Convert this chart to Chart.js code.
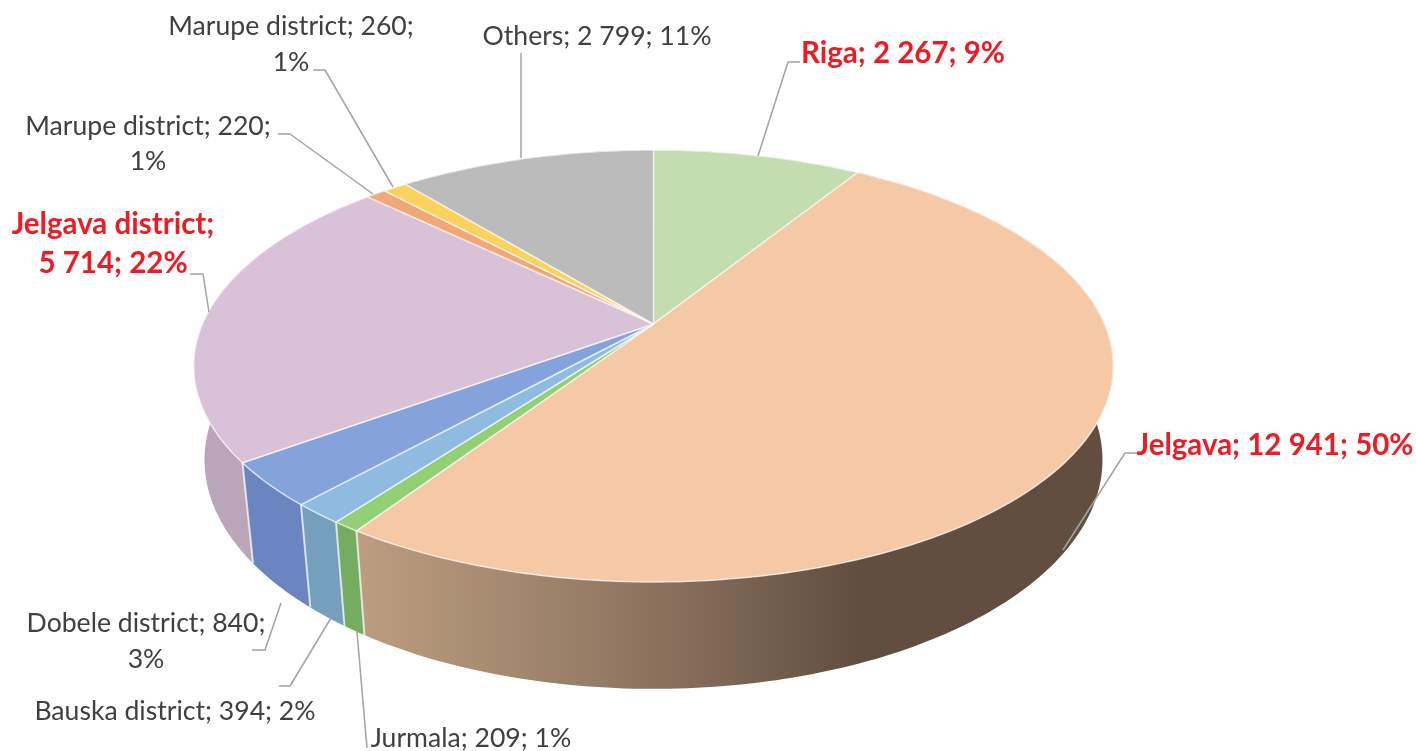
<!DOCTYPE html>
<html>
<head>
<meta charset="utf-8">
<style>
  html, body { margin: 0; padding: 0; background: #fff; }
  #wrap { width: 1416px; height: 751px; }
</style>
<script src="https://cdn.jsdelivr.net/npm/chart.js@4"></script>
</head>
<body>
<div id="wrap"><canvas id="myChart" width="1416" height="751"></canvas></div>
<script>
// data
var places = ["Riga", "Jelgava", "Jurmala", "Bauska district", "Dobele district",
              "Jelgava district", "Marupe district", "Marupe district", "Others"];
var counts = [2267, 12941, 209, 394, 840, 5714, 220, 260, 2799];
var countLabels = ["2 267", "12 941", "209", "394", "840", "5 714", "220", "260", "2 799"];
var shares = ["9%", "50%", "1%", "2%", "3%", "22%", "1%", "1%", "11%"];

// styles
var topColors = ["#c3dcb0", "#f5c8a6", "#93cf74", "#8fbbe0", "#84a3da", "#d9c2d8", "#f0a878", "#fbd35c", "#bbbbbb"];
var wallColors = ["#97ab88", "#8f7560", "#76ab62", "#74a0bd", "#6a85bf", "#baa6b8", "#ba8360", "#c3a448", "#919191"];

// label layout: centre x, baseline y of each line
var labelLayout = [
  { x: 903, y: [63], bold: true },
  { x: 1275, y: [455], bold: true },
  { x: 471, y: [747] },
  { x: 175, y: [720] },
  { x: 146, y: [632, 668] },
  { x: 113, y: [234, 273], bold: true },
  { x: 148, y: [135, 170] },
  { x: 291, y: [35, 71] },
  { x: 597, y: [45] }
];
var leaders = [
  [[800, 62], [788, 62], [758, 156]],
  [[1137, 453], [1125, 453], [1063, 550]],
  [[357, 632], [367, 748]],
  [[279, 686], [290, 686], [331, 618]],
  [[252, 650], [265, 650], [281, 603]],
  [[190, 274], [203, 274], [209, 312]],
  [[278, 134], [290, 134], [373, 194]],
  [[313, 70], [325, 70], [393, 187]],
  [[521, 53], [521, 158]]
];

// camera for the tilted disc, apex of the pie sits at cx, cy
var cx = 653.5, cy = 324;
var a = 451, b = 207.8, k = 0.1945;
var vanishY = 4076, depth = 0.0232;

function project(theta, d) {
  var w = 1 + k * Math.cos(theta) + d;
  return {
    x: cx + a * Math.sin(theta) / w,
    y: cy + (-b * Math.cos(theta) + d * vanishY) / w
  };
}

function wallFill(ctx, i) {
  if (i != 1) return wallColors[i];
  var g = ctx.createLinearGradient(360, 0, 860, 0);
  g.addColorStop(0, "#bd9d80");
  g.addColorStop(0.5, "#947a64");
  g.addColorStop(1, "#614e40");
  return g;
}

var pie3d = {
  id: "pie3d",
  beforeDatasetsDraw: function(chart) {
    var ctx = chart.ctx;
    var arcs = chart.getDatasetMeta(0).data;
    var t, p;

    // side walls first, the top face covers the hidden part
    arcs.forEach(function(arc, i) {
      var s = arc.startAngle + Math.PI / 2, e = arc.endAngle + Math.PI / 2;
      var steps = Math.max(4, Math.ceil((e - s) * 60));
      ctx.beginPath();
      for (t = 0; t <= steps; t++) {
        p = project(s + (e - s) * t / steps, 0);
        if (t == 0) ctx.moveTo(p.x, p.y); else ctx.lineTo(p.x, p.y);
      }
      for (t = steps; t >= 0; t--) {
        p = project(s + (e - s) * t / steps, depth);
        ctx.lineTo(p.x, p.y);
      }
      ctx.closePath();
      ctx.fillStyle = wallFill(ctx, i);
      ctx.fill();
    });
    // light seams at the slice edges
    arcs.forEach(function(arc, i) {
      var e = arc.endAngle + Math.PI / 2;
      var p1 = project(e, 0), p2 = project(e, depth);
      // only the seams on the near side show
      if (Math.cos(e) > 0) return;
      ctx.beginPath();
      ctx.moveTo(p1.x, p1.y);
      ctx.lineTo(p2.x, p2.y);
      ctx.strokeStyle = "rgba(255,255,255,0.7)";
      ctx.lineWidth = 2;
      ctx.stroke();
    });

    // top face
    arcs.forEach(function(arc, i) {
      var s = arc.startAngle + Math.PI / 2, e = arc.endAngle + Math.PI / 2;
      var steps = Math.max(4, Math.ceil((e - s) * 60));
      ctx.beginPath();
      ctx.moveTo(cx, cy);
      for (t = 0; t <= steps; t++) {
        p = project(s + (e - s) * t / steps, 0);
        ctx.lineTo(p.x, p.y);
      }
      ctx.closePath();
      ctx.fillStyle = topColors[i];
      ctx.fill();
      ctx.strokeStyle = "rgba(255,255,255,0.65)";
      ctx.lineWidth = 1.5;
      ctx.lineJoin = "round";
      ctx.stroke();
    });

    return false; // the flat arcs are replaced by the drawing above
  },
  afterDraw: function(chart) {
    var ctx = chart.ctx;
    ctx.save();
    // leader lines
    ctx.strokeStyle = "#a3a3a3";
    ctx.lineWidth = 1.5;
    leaders.forEach(function(line) {
      ctx.beginPath();
      line.forEach(function(pt, n) {
        if (n == 0) ctx.moveTo(pt[0], pt[1]); else ctx.lineTo(pt[0], pt[1]);
      });
      ctx.stroke();
    });
    // data labels
    ctx.textAlign = "center";
    ctx.textBaseline = "alphabetic";
    places.forEach(function(name, i) {
      var lay = labelLayout[i];
      ctx.font = (lay.bold ? "bold 29.5px" : "26.6px") + " Lato, Carlito, sans-serif";
      ctx.fillStyle = lay.bold ? "#ed1c24" : "#404040";
      var lines;
      if (lay.y.length == 1) {
        lines = [name + "; " + countLabels[i] + "; " + shares[i]];
      } else if (lay.bold) {
        lines = [name + ";", countLabels[i] + "; " + shares[i]];
      } else {
        lines = [name + "; " + countLabels[i] + ";", shares[i]];
      }
      lines.forEach(function(txt, n) {
        ctx.fillText(txt, lay.x, lay.y[n]);
      });
    });
    ctx.restore();
  }
};

var mychart = new Chart(document.getElementById("myChart").getContext("2d"), {
  type: "pie",
  data: {
    labels: places,
    datasets: [{ data: counts, backgroundColor: topColors, borderWidth: 0 }]
  },
  options: {
    responsive: false,
    animation: false,
    plugins: { legend: { display: false }, tooltip: { enabled: false } }
  },
  plugins: [pie3d]
});
</script>
</body>
</html>
